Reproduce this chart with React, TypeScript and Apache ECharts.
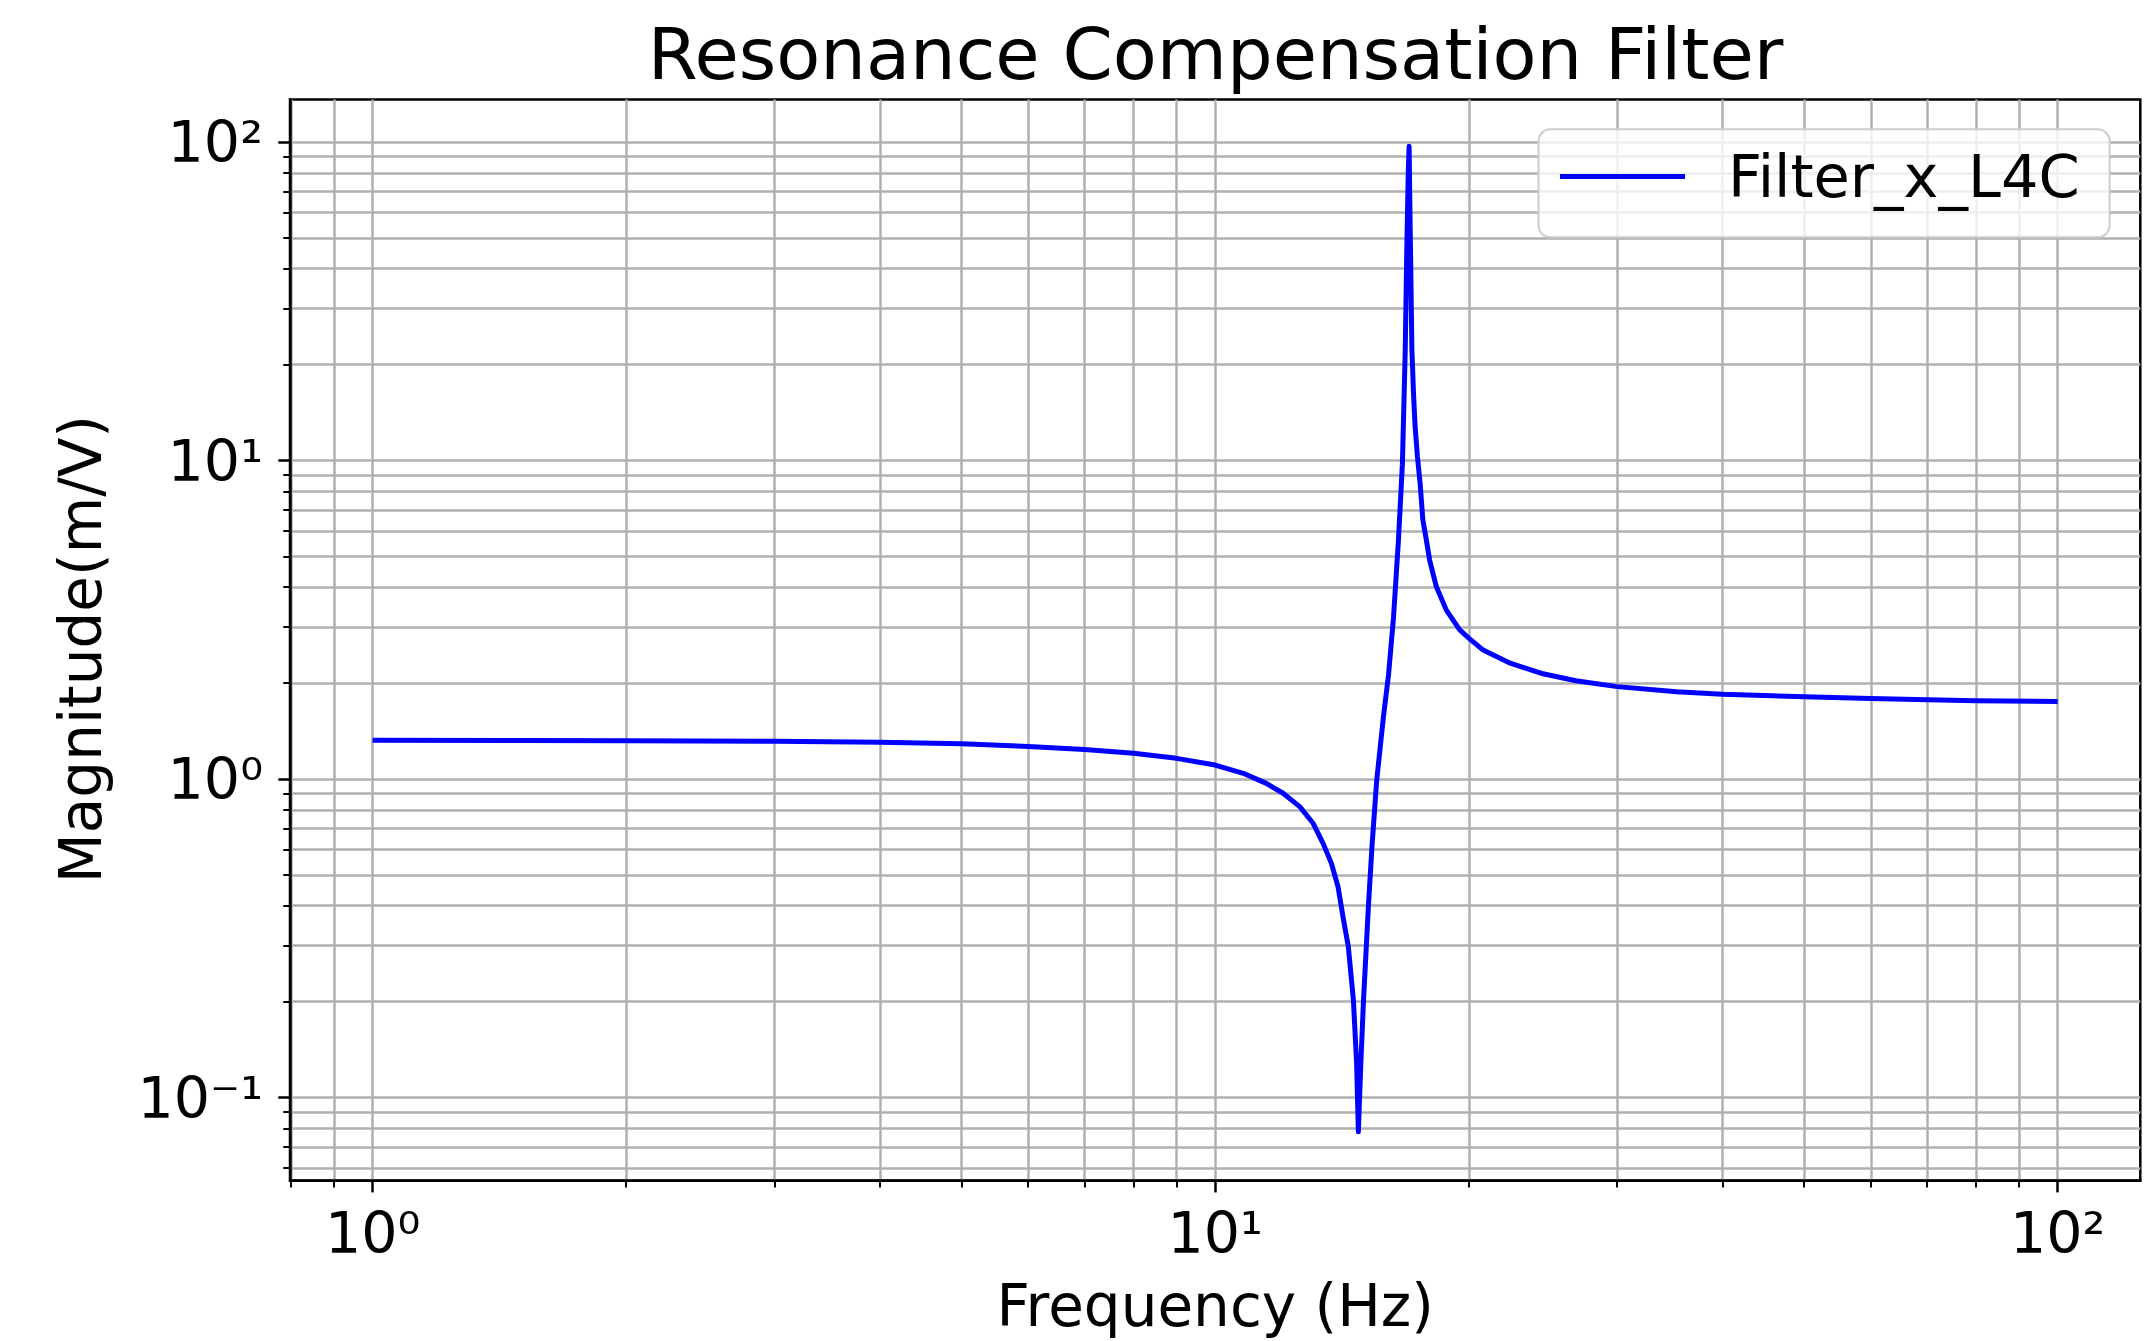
import React, { useEffect, useRef } from 'react';
import * as echarts from 'echarts';

// ---- data ----
const freqHz = [
  1, 1.5, 2, 3, 4, 5, 6, 7, 8, 9,
  10, 10.8, 11.5, 12.04, 12.6, 13.07, 13.43, 13.74, 13.99, 14.18,
  14.39, 14.59, 14.72, 14.79, 14.89, 15.0, 15.2, 15.35, 15.55, 15.84,
  16.06, 16.28, 16.5, 16.68, 16.81, 16.88, 16.95, 16.99, 17.03, 17.07,
  17.12, 17.2, 17.27, 17.38, 17.51, 17.64, 17.81, 17.97, 18.3, 18.81, 19.51, 20,
  20.8, 22.4, 24.5, 26.8, 30, 35.3, 40, 50, 60, 70,
  80, 100,
];
const magnitude = [
  1.323, 1.322, 1.319, 1.313, 1.305, 1.29, 1.265, 1.238, 1.205, 1.161,
  1.106, 1.042, 0.969, 0.902, 0.819, 0.726, 0.628, 0.5435, 0.459, 0.3695,
  0.2975, 0.2023, 0.128, 0.078, 0.128, 0.2023, 0.397, 0.613, 0.99, 1.57,
  2.12, 3.21, 5.59, 9.72, 22, 45, 80, 97, 60, 38.8,
  22.3, 16.0, 12.8, 10.3, 8.46, 6.51, 5.63, 4.87, 4.02, 3.39, 2.94, 2.77,
  2.54, 2.31, 2.14, 2.035, 1.95, 1.88, 1.845, 1.813, 1.79, 1.775,
  1.762, 1.75,
];
const seriesName = 'Filter_x_L4C';
const titleText = 'Resonance Compensation Filter';
const xAxisName = 'Frequency (Hz)';
const yAxisName = 'Magnitude(m/V)';

const xMajorTicks = [1, 10, 100];
const xMinorTicks = [0.8, 0.9, 2, 3, 4, 5, 6, 7, 8, 9, 20, 30, 40, 50, 60, 70, 80, 90];
const yMajorTicks = [0.1, 1, 10, 100];
const yMinorTicks = [
  0.06, 0.07, 0.08, 0.09, 0.2, 0.3, 0.4, 0.5, 0.6, 0.7, 0.8, 0.9,
  2, 3, 4, 5, 6, 7, 8, 9, 20, 30, 40, 50, 60, 70, 80, 90,
];
const X_MIN = 0.798;
const X_MAX = 125.31;
const Y_MIN = 0.0548;
const Y_MAX = 135.87;

const FONT = '"DejaVu Sans", "Liberation Sans", sans-serif';

const SUP: Record<string, string> = {
  '-': '⁻', '0': '⁰', '1': '¹', '2': '²', '3': '³', '4': '⁴',
  '5': '⁵', '6': '⁶', '7': '⁷', '8': '⁸', '9': '⁹',
};
const powLabel = (v: number) => {
  const n = Math.round(Math.log10(v));
  return '10' + String(n).split('').map((c) => SUP[c] || c).join('');
};

const GRID_COLOR = '#b0b0b0';

export default function App() {
  const ref = useRef<HTMLDivElement>(null);

  useEffect(() => {
    if (!ref.current) return;
    const chart = echarts.init(ref.current, undefined, { renderer: 'svg' });

    const minorX = {
      type: 'log', logBase: 10, min: X_MIN, max: X_MAX, position: 'bottom', gridIndex: 0,
      axisLine: { show: false },
      axisTick: { show: true, length: 6.7, customValues: xMinorTicks, lineStyle: { color: '#000', width: 2 } },
      axisLabel: { show: false },
      splitLine: { show: true, lineStyle: { color: GRID_COLOR, width: 2.5 } },
      minorTick: { show: false }, minorSplitLine: { show: false },
    };
    const minorY = {
      type: 'log', logBase: 10, min: Y_MIN, max: Y_MAX, position: 'left', gridIndex: 0,
      axisLine: { show: false },
      axisTick: { show: true, length: 6.7, customValues: yMinorTicks, lineStyle: { color: '#000', width: 2 } },
      axisLabel: { show: false },
      splitLine: { show: true, lineStyle: { color: GRID_COLOR, width: 2.5 } },
      minorTick: { show: false }, minorSplitLine: { show: false },
    };

    const option: any = {
      animation: false,
      backgroundColor: '#ffffff',
      textStyle: { fontFamily: FONT },
      graphic: [
        {
          type: 'text', x: 1215.5, y: 54, z: 10,
          style: {
            text: titleText, fill: '#000', font: '72px "DejaVu Sans"',
            fontSize: 72, fontFamily: FONT,
            align: 'center', textAlign: 'center', verticalAlign: 'middle', textVerticalAlign: 'middle',
          },
        },
      ],
      legend: {
        show: true,
        left: 1538.5, top: 129.3,
        orient: 'horizontal',
        padding: [17.7, 30, 31.3, 21.5],
        itemWidth: 125, itemHeight: 5,
        backgroundColor: 'rgba(255,255,255,0.8)',
        borderColor: '#cccccc', borderWidth: 2, borderRadius: 12,
        selectedMode: false,
        textStyle: { fontSize: 59, color: '#000', fontFamily: FONT, padding: [0, 0, 0, 38] },
        data: [{ name: seriesName, icon: 'rect' }],
      },
      grid: {
        left: 290, top: 99.6, width: 1850.3, height: 1081.1,
        show: true, borderColor: '#000', borderWidth: 2.5, backgroundColor: 'transparent',
        containLabel: false, outerBoundsMode: 'none',
      },
      xAxis: [
        {
          type: 'log', logBase: 10, min: X_MIN, max: X_MAX, position: 'bottom', gridIndex: 0,
          name: xAxisName, nameLocation: 'middle', nameGap: 96,
          nameTextStyle: { fontSize: 58, color: '#000', fontFamily: FONT },
          axisLine: { show: true, onZero: false, lineStyle: { color: '#000', width: 2.5 } },
          axisTick: { show: true, length: 11.7, customValues: xMajorTicks, lineStyle: { color: '#000', width: 2.5 } },
          axisLabel: {
            show: true, customValues: xMajorTicks, formatter: powLabel,
            fontSize: 57, color: '#000', fontFamily: FONT, margin: 24,
          },
          splitLine: { show: true, lineStyle: { color: GRID_COLOR, width: 2.5 } },
          minorTick: { show: false }, minorSplitLine: { show: false },
        },
        minorX,
      ],
      yAxis: [
        {
          type: 'log', logBase: 10, min: Y_MIN, max: Y_MAX, position: 'left', gridIndex: 0,
          name: yAxisName, nameLocation: 'middle', nameGap: 180, nameRotate: 90,
          nameTextStyle: { fontSize: 58, color: '#000', fontFamily: FONT, padding: [0, 18, 0, 0] },
          axisLine: { show: true, onZero: false, lineStyle: { color: '#000', width: 2.5 } },
          axisTick: { show: true, length: 11.7, customValues: yMajorTicks, lineStyle: { color: '#000', width: 2.5 } },
          axisLabel: {
            show: true, customValues: yMajorTicks, formatter: powLabel,
            fontSize: 57, color: '#000', fontFamily: FONT, margin: 27,
          },
          splitLine: { show: true, lineStyle: { color: GRID_COLOR, width: 2.5 } },
          minorTick: { show: false }, minorSplitLine: { show: false },
        },
        minorY,
      ],
      series: [
        {
          name: seriesName,
          type: 'line',
          xAxisIndex: 0, yAxisIndex: 0,
          data: freqHz.map((f, i) => [f, magnitude[i]]),
          showSymbol: false, symbol: 'none', smooth: false,
          lineStyle: { color: '#0000ff', width: 5, join: 'round' },
          itemStyle: { color: '#0000ff' },
          clip: true, z: 5,
        },
      ],
    };

    chart.setOption(option);
    return () => chart.dispose();
  }, []);

  return (
    <div
      ref={ref}
      style={{ position: 'fixed', left: 0, top: 0, width: 2151, height: 1341, background: '#fff' }}
    />
  );
}
